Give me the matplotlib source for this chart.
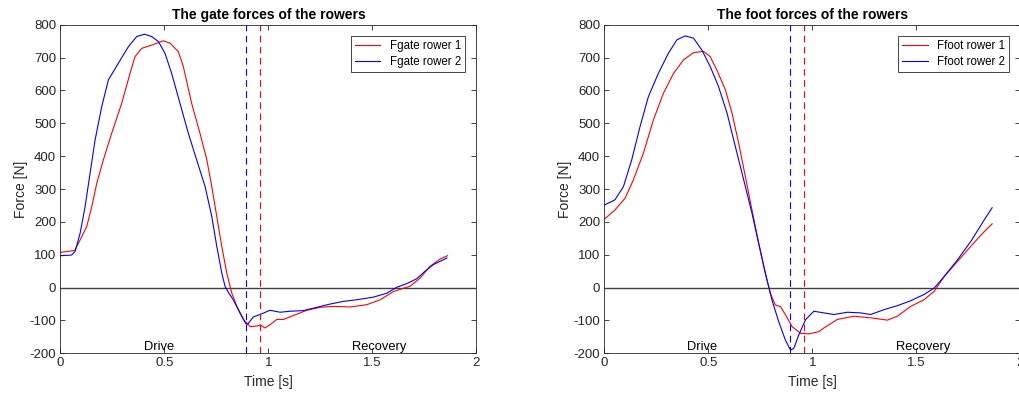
import numpy as np
import matplotlib.pyplot as plt

plt.rcParams['font.family'] = ['Liberation Sans', 'DejaVu Sans']
plt.rcParams['axes.unicode_minus'] = False

# gate forces (left panel)
t_gate1 = [0.0, 0.07, 0.079, 0.103, 0.127, 0.151, 0.175, 0.207, 0.247, 0.295, 0.335, 0.359, 0.391, 0.439,
           0.495, 0.527, 0.567, 0.591, 0.631, 0.671, 0.704, 0.728, 0.752, 0.776, 0.800, 0.824, 0.849,
           0.881, 0.913, 0.944, 0.962, 0.984, 1.008, 1.040, 1.072, 1.120, 1.185, 1.249, 1.313, 1.393,
           1.473, 1.537, 1.601, 1.649, 1.681, 1.729, 1.777, 1.826, 1.861]
f_gate1 = [107, 113, 125, 155, 186, 246, 317, 389, 470, 561, 652, 703, 728, 738,
           751, 744, 718, 673, 561, 470, 389, 307, 216, 125, 44, -17, -58,
           -98, -119, -117, -114, -123, -113, -97, -97, -85, -69, -60, -57, -59,
           -52, -37, -12, -2, 4, 29, 65, 87, 97]
t_gate2 = [0.0, 0.054, 0.071, 0.095, 0.119, 0.143, 0.167, 0.199, 0.231, 0.279, 0.327, 0.367, 0.404,
           0.439, 0.471, 0.503, 0.535, 0.575, 0.615, 0.655, 0.696, 0.728, 0.752, 0.776, 0.792, 0.808,
           0.832, 0.864, 0.891, 0.900, 0.928, 0.960, 1.008, 1.056, 1.104, 1.168, 1.233, 1.297, 1.361,
           1.425, 1.505, 1.569, 1.617, 1.665, 1.713, 1.753, 1.793, 1.858]
f_gate2 = [97, 99, 110, 165, 246, 348, 449, 551, 632, 683, 733, 764, 771,
           764, 749, 713, 652, 561, 470, 389, 307, 216, 125, 44, 3, -15,
           -38, -78, -109, -112, -89, -82, -69, -75, -72, -70, -60, -50, -42,
           -37, -29, -17, 1, 12, 27, 50, 70, 90]

# foot forces (right panel)
t_foot1 = [0.0, 0.051, 0.100, 0.140, 0.188, 0.236, 0.284, 0.333, 0.381, 0.429, 0.477, 0.509, 0.541,
           0.582, 0.614, 0.646, 0.678, 0.710, 0.742, 0.774, 0.798, 0.822, 0.847, 0.871, 0.903, 0.943,
           0.983, 1.031, 1.055, 1.120, 1.200, 1.280, 1.361, 1.409, 1.473, 1.537, 1.586, 1.634, 1.698,
           1.762, 1.827, 1.864]
f_foot1 = [208, 236, 272, 328, 409, 510, 591, 652, 693, 715, 719, 703, 662,
           602, 531, 439, 338, 236, 135, 44, -17, -53, -58, -83, -119, -139,
           -141, -134, -123, -97, -87, -92, -99, -87, -57, -37, -11, 34, 80,
           126, 171, 194]
t_foot2 = [0.0, 0.051, 0.092, 0.132, 0.172, 0.212, 0.260, 0.308, 0.349, 0.389, 0.429, 0.469, 0.509,
           0.549, 0.590, 0.630, 0.670, 0.710, 0.742, 0.774, 0.806, 0.838, 0.870, 0.895, 0.911, 0.935,
           0.967, 1.007, 1.055, 1.104, 1.168, 1.232, 1.280, 1.345, 1.409, 1.473, 1.537, 1.586, 1.634,
           1.698, 1.762, 1.827, 1.864]
f_foot2 = [251, 267, 307, 389, 490, 581, 652, 713, 754, 766, 759, 723, 673,
           612, 531, 429, 328, 226, 135, 44, -38, -103, -159, -190, -185, -144,
           -98, -72, -77, -82, -75, -77, -82, -67, -55, -40, -21, -1, 34,
           85, 141, 207, 243]

# end of drive phase per rower
t_end1 = 0.962
t_end2 = 0.894

panels = [
    ("The gate forces of the rowers", "Fgate", t_gate1, f_gate1, t_gate2, f_gate2),
    ("The foot forces of the rowers", "Ffoot", t_foot1, f_foot1, t_foot2, f_foot2),
]

fig = plt.figure(figsize=(10.19, 3.98), dpi=100)
lefts = [0.0592, 0.5930]
axc = '#262626'

for left, (title, name, t1, f1, t2, f2) in zip(lefts, panels):
    ax = fig.add_axes([left, 0.1123, 0.4084, 0.8256])
    ax.axhline(0, color='#404040', lw=1.0)
    ax.plot(t1, f1, color='#ff0000', lw=0.8, label=name + " rower 1")
    ax.plot(t2, f2, color='#0000ff', lw=0.8, label=name + " rower 2")
    ax.axvline(t_end2, color='#0000ff', lw=0.8, ls=(0, (6, 4)))
    ax.axvline(t_end1, color='#ff0000', lw=0.8, ls=(0, (6, 4)))
    ax.text(0.4, -180, "Drive", fontsize=9.3, va='center', ha='left', color='k')
    ax.text(1.4, -180, "Recovery", fontsize=9.3, va='center', ha='left', color='k')

    ax.set_xlim(0, 2)
    ax.set_ylim(-200, 800)
    ax.set_xticks([0, 0.5, 1, 1.5, 2])
    ax.set_xticklabels(["0", "0.5", "1", "1.5", "2"])
    ax.set_yticks(np.arange(-200, 801, 100))
    ax.tick_params(direction='in', length=3.5, width=0.6, top=True, right=True,
                   labelsize=9.5, colors=axc, pad=3)
    for s in ax.spines.values():
        s.set_color(axc)
        s.set_linewidth(0.6)
    ax.set_title(title, fontsize=10, fontweight='bold', pad=4)
    ax.set_xlabel("Time [s]", fontsize=10, color=axc, labelpad=4)
    ax.set_ylabel("Force [N]", fontsize=10, color=axc, labelpad=1)
    leg = ax.legend(loc='upper right', fontsize=8.3, fancybox=False, framealpha=1,
                    edgecolor=axc, handlelength=2.2, borderpad=0.35, labelspacing=0.3,
                    borderaxespad=1.0)
    leg.get_frame().set_linewidth(0.6)

plt.savefig("out.png", dpi=100)
